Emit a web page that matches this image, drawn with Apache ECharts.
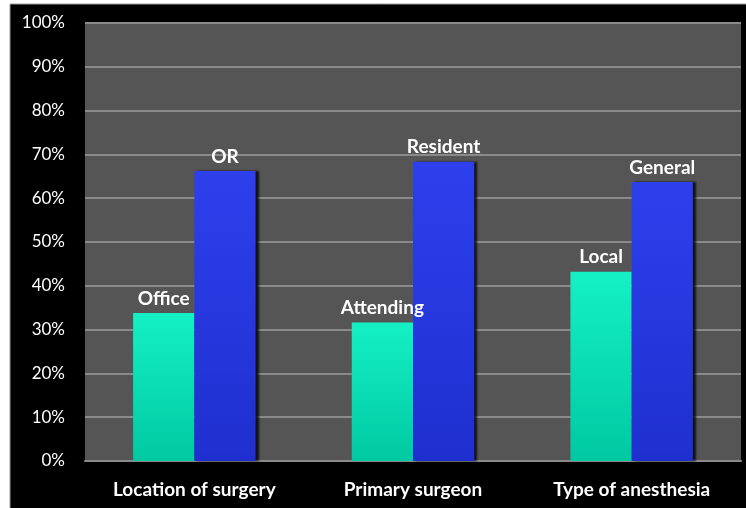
<!DOCTYPE html>
<html lang="en">
  <head>
    <meta charset="UTF-8" />
    <title>Surgery share chart</title>
    <script src="https://cdn.jsdelivr.net/npm/echarts/dist/echarts.min.js"></script>
    <style>
      html, body { margin: 0; padding: 0; background: #fff; }
    </style>
  </head>
  <body>
    <div id="chart" style="width: 746px; height: 508px"></div>
    <script>
      // data
      const categories = ["Location of surgery", "Primary surgeon", "Type of anesthesia"];
      const firstLabels = ["Office", "Attending", "Local"];
      const secondLabels = ["OR", "Resident", "General"];
      const firstValues = [33.8, 31.6, 43.2];
      const secondValues = [66.2, 68.3, 63.7];

      var chart = echarts.init(document.getElementById("chart"));
      var font = "Lato, 'Open Sans', sans-serif";

      function barLabel(names) {
        return {
          show: true,
          position: "top",
          distance: 5,
          color: "#ffffff",
          fontFamily: font,
          fontWeight: "bold",
          fontSize: 19,
          formatter: function (p) {
            return names[p.dataIndex];
          },
        };
      }

      var option = {
        backgroundColor: "#ffffff",
        animation: false,
        graphic: [
          {
            type: "rect",
            z: -10,
            shape: { x: 10, y: 4, width: 740, height: 510 },
            style: { fill: "#000000", stroke: "#9a9a9a", lineWidth: 1 },
          },
        ],
        grid: {
          left: 85,
          right: 5,
          top: 23,
          bottom: 47,
          show: true,
          backgroundColor: "#555555",
          borderWidth: 0,
        },
        xAxis: {
          type: "category",
          data: categories,
          axisLine: { show: true, lineStyle: { color: "#8a8a8a", width: 2 } },
          axisTick: { show: false },
          axisLabel: {
            color: "#ffffff",
            fontFamily: font,
            fontWeight: "bold",
            fontSize: 19,
            margin: 19,
          },
        },
        yAxis: {
          type: "value",
          min: 0,
          max: 100,
          interval: 10,
          axisLine: { show: false },
          axisTick: { show: false },
          splitLine: { lineStyle: { color: "#8a8a8a", width: 2 } },
          axisLabel: {
            color: "#ffffff",
            fontFamily: font,
            fontSize: 17,
            margin: 20,
            formatter: "{value}%",
          },
        },
        series: [
          {
            type: "bar",
            data: firstValues,
            barWidth: "28%",
            barGap: "0%",
            itemStyle: {
              color: new echarts.graphic.LinearGradient(0, 0, 0, 1, [
                { offset: 0, color: "#14f0c4" },
                { offset: 1, color: "#00c9a2" },
              ]),
            },
            label: barLabel(firstLabels),
          },
          {
            type: "bar",
            data: secondValues,
            barWidth: "28%",
            itemStyle: {
              color: new echarts.graphic.LinearGradient(0, 0, 0, 1, [
                { offset: 0, color: "#2d40ec" },
                { offset: 1, color: "#1f2fcf" },
              ]),
              shadowColor: "rgba(0,0,0,0.8)",
              shadowOffsetX: 3,
              shadowBlur: 2,
            },
            label: barLabel(secondLabels),
          },
        ],
      };

      chart.setOption(option);
    </script>
  </body>
</html>
